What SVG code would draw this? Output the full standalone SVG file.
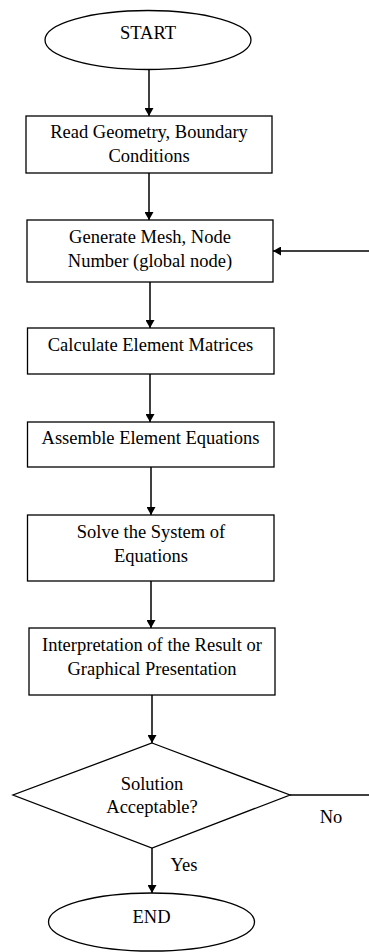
<svg xmlns="http://www.w3.org/2000/svg" width="369" height="952" viewBox="0 0 369 952">
<defs>
<marker id="ah" markerWidth="8" markerHeight="9" refX="8" refY="4.5" orient="auto" markerUnits="userSpaceOnUse">
<path d="M0,0 L8,4.5 L0,9 Z" fill="#000"/>
</marker>
<style>
.s{fill:#fff;stroke:#000;stroke-width:1.3}
.t{font-family:"Liberation Serif","Times New Roman",serif;font-size:18.5px;fill:#000;text-anchor:middle}
.c{fill:none;stroke:#000;stroke-width:1.5}
</style>
</defs>
<rect width="369" height="952" fill="#fff"/>
<g id="connectors">
<line class="c" x1="149" y1="69" x2="149" y2="116" marker-end="url(#ah)"/>
<line class="c" x1="149" y1="173" x2="149" y2="220" marker-end="url(#ah)"/>
<line class="c" x1="369" y1="251" x2="273" y2="251" marker-end="url(#ah)"/>
<line class="c" x1="150" y1="282" x2="150" y2="328" marker-end="url(#ah)"/>
<line class="c" x1="150" y1="374" x2="150" y2="422" marker-end="url(#ah)"/>
<line class="c" x1="151" y1="467" x2="151" y2="515" marker-end="url(#ah)"/>
<line class="c" x1="151" y1="581" x2="151" y2="628" marker-end="url(#ah)"/>
<line class="c" x1="152" y1="695" x2="152" y2="743" marker-end="url(#ah)"/>
<line class="c" x1="290" y1="795" x2="369" y2="795"/>
<line class="c" x1="152" y1="848" x2="152" y2="893" marker-end="url(#ah)"/>
<text class="t" x="331" y="823">No</text>
<text class="t" x="184" y="871">Yes</text>
</g>
<g id="start">
<ellipse class="s" cx="148" cy="40" rx="103" ry="29.5"/>
<text class="t" x="148" y="39">START</text>
</g>
<g id="read">
<rect class="s" x="26" y="116" width="246" height="57"/>
<text class="t" x="149" y="138">Read Geometry, Boundary</text>
<text class="t" x="149" y="162">Conditions</text>
</g>
<g id="mesh">
<rect class="s" x="27" y="220" width="246" height="62"/>
<text class="t" x="150" y="243">Generate Mesh, Node</text>
<text class="t" x="150" y="267">Number (global node)</text>
</g>
<g id="calc">
<rect class="s" x="27.5" y="328" width="246.5" height="46"/>
<text class="t" x="150.5" y="351">Calculate Element Matrices</text>
</g>
<g id="assemble">
<rect class="s" x="27.5" y="422" width="246.5" height="45"/>
<text class="t" x="150.5" y="444">Assemble Element Equations</text>
</g>
<g id="solve">
<rect class="s" x="27.5" y="515" width="246.5" height="66"/>
<text class="t" x="151" y="538">Solve the System of</text>
<text class="t" x="151" y="562">Equations</text>
</g>
<g id="interp">
<rect class="s" x="29" y="628" width="246" height="67"/>
<text class="t" x="152" y="651">Interpretation of the Result or</text>
<text class="t" x="152" y="675">Graphical Presentation</text>
</g>
<g id="decision">
<polygon class="s" points="152,743 290,795 152,848 13,795"/>
<text class="t" x="152" y="790">Solution</text>
<text class="t" x="152" y="813">Acceptable?</text>
</g>
<g id="end">
<ellipse class="s" cx="151.5" cy="922" rx="103" ry="29"/>
<text class="t" x="151.5" y="923">END</text>
</g>
</svg>
